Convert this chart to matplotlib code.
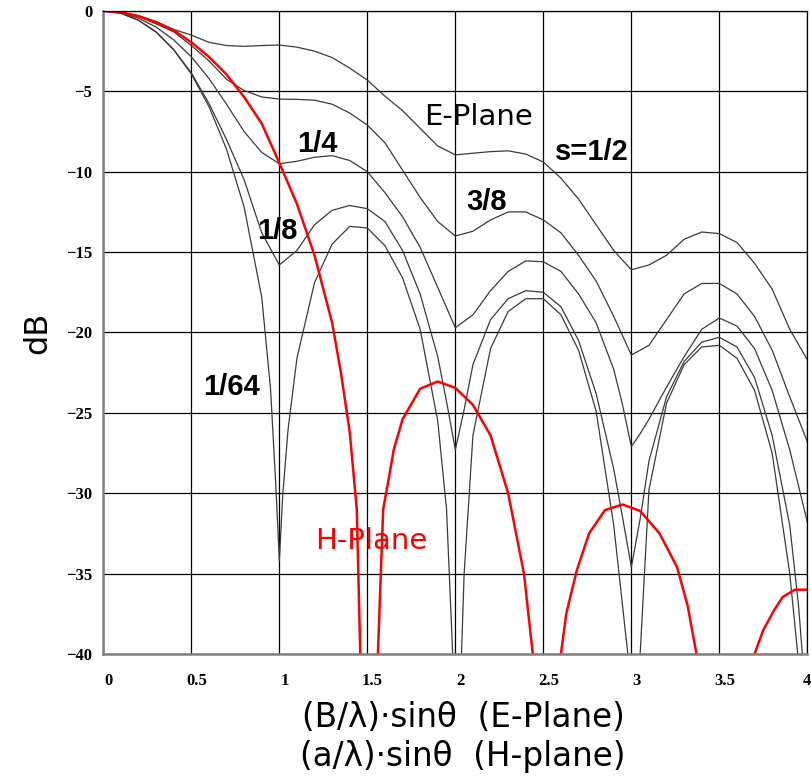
import matplotlib
matplotlib.use("Agg")
import matplotlib.pyplot as plt
from matplotlib.transforms import ScaledTranslation

# normalised spatial frequency (B/lambda)sin(theta) or (a/lambda)sin(theta)
u_half = [0, 0.1, 0.2, 0.3, 0.4, 0.5, 0.6, 0.7, 0.8, 0.9, 1.0, 1.1, 1.2, 1.3, 1.4,
          1.5, 1.6, 1.7, 1.8, 1.9, 2.0, 2.1, 2.2, 2.3, 2.4, 2.5, 2.6, 2.7, 2.8, 2.9,
          3.0, 3.1, 3.2, 3.3, 3.4, 3.5, 3.6, 3.7, 3.8, 3.9, 4.0]
db_half = [0, -0.08, -0.3, -0.65, -1.15, -1.5, -1.95, -2.15, -2.2, -2.15, -2.12,
           -2.25, -2.5, -2.9, -3.55, -4.3, -5.3, -6.2, -7.3, -8.4, -8.95, -8.85,
           -8.75, -8.7, -8.9, -9.4, -10.4, -11.7, -13.3, -14.9, -16.1, -15.8, -15.2,
           -14.2, -13.75, -13.85, -14.4, -15.7, -17.3, -19.8, -21.7]

u_3_8 = u_half
db_3_8 = [0, -0.1, -0.35, -0.8, -1.3, -2.15, -3.1, -4.25, -4.95, -5.35, -5.48,
          -5.5, -5.55, -5.8, -6.35, -7.1, -8.2, -9.9, -11.6, -13.1, -14.0, -13.7,
          -13.0, -12.5, -12.5, -13.0, -13.8, -15.2, -16.8, -19.0, -21.4, -20.8,
          -19.2, -17.6, -16.95, -16.95, -17.6, -19.0, -21.1, -24.0, -26.8]

u_1_4 = [0, 0.1, 0.2, 0.3, 0.4, 0.5, 0.6, 0.7, 0.8, 0.9, 1.0, 1.1, 1.2, 1.3, 1.4,
         1.5, 1.6, 1.7, 1.8, 1.9, 2.0, 2.1, 2.2, 2.3, 2.4, 2.5, 2.6, 2.7, 2.8, 2.9,
         2.95, 3.0, 3.05, 3.1, 3.2, 3.3, 3.4, 3.5, 3.6, 3.7, 3.8, 3.9, 4.0]
db_1_4 = [0, -0.12, -0.45, -1.0, -1.8, -2.85, -4.2, -5.8, -7.5, -8.8, -9.5, -9.35,
          -9.1, -9.0, -9.3, -10.0, -11.3, -12.8, -14.7, -17.2, -19.7, -18.9, -17.4,
          -16.2, -15.55, -15.6, -16.2, -17.6, -19.4, -22.3, -24.5, -27.1, -26.3,
          -25.4, -23.4, -21.5, -19.8, -19.1, -19.6, -21.0, -23.6, -27.3, -31.8]

u_1_8 = [0, 0.1, 0.2, 0.3, 0.4, 0.5, 0.6, 0.7, 0.8, 0.9, 1.0, 1.1, 1.2, 1.3, 1.4,
         1.5, 1.6, 1.7, 1.8, 1.9, 1.95, 2.0, 2.05, 2.1, 2.2, 2.3, 2.4, 2.5, 2.6,
         2.7, 2.8, 2.9, 2.95, 3.0, 3.05, 3.1, 3.2, 3.3, 3.4, 3.5, 3.6, 3.7, 3.8,
         3.9, 3.95, 4.0]
db_1_8 = [0, -0.14, -0.58, -1.3, -2.4, -3.85, -5.75, -8.0, -10.5, -13.8, -15.8,
          -14.9, -13.3, -12.4, -12.1, -12.3, -13.1, -14.9, -17.6, -21.5, -24.3,
          -27.3, -24.8, -22.0, -19.2, -17.9, -17.4, -17.5, -18.4, -20.5, -23.8,
          -28.5, -31.5, -34.6, -31.6, -28.0, -24.0, -21.8, -20.6, -20.3, -20.9,
          -22.8, -26.4, -32.0, -37.0, -44.0]

u_1_64 = [0, 0.1, 0.2, 0.3, 0.4, 0.5, 0.6, 0.7, 0.8, 0.9, 0.95, 0.98, 1.0, 1.02,
          1.05, 1.1, 1.2, 1.3, 1.4, 1.5, 1.6, 1.7, 1.8, 1.9, 1.95, 1.985, 2.01,
          2.035, 2.05, 2.1, 2.2, 2.3, 2.4, 2.5, 2.6, 2.7, 2.8, 2.9, 2.95, 2.98,
          3.01, 3.05, 3.1, 3.2, 3.3, 3.4, 3.5, 3.6, 3.7, 3.8, 3.9, 3.95, 4.0]
db_1_64 = [0, -0.14, -0.58, -1.32, -2.42, -3.92, -5.94, -8.6, -12.2, -17.8, -23.5,
           -29.5, -34.2, -30.0, -26.0, -21.6, -16.9, -14.5, -13.4, -13.5, -14.6,
           -16.6, -19.8, -25.5, -31.0, -40.0, -48.0, -40.0, -35.0, -26.4, -21.0,
           -18.7, -17.9, -17.9, -18.9, -21.1, -24.9, -32.0, -37.0, -40.0, -48.0,
           -40.0, -29.8, -24.4, -22.0, -20.9, -20.8, -21.6, -23.6, -27.5, -35.0,
           -40.5, -48.0]

# H-plane (cosine aperture), values below -40 dB fall off the chart
u_h = [0, 0.1, 0.2, 0.3, 0.4, 0.5, 0.6, 0.7, 0.8, 0.9, 1.0, 1.1, 1.2, 1.3, 1.35,
       1.4, 1.44, 1.46, 1.51, 1.56, 1.59, 1.62, 1.65, 1.7, 1.8, 1.9, 2.0, 2.1, 2.2,
       2.3, 2.39, 2.44, 2.52, 2.6, 2.63, 2.69, 2.76, 2.85, 2.95, 3.05, 3.16, 3.26,
       3.32, 3.37, 3.53, 3.7, 3.75, 3.81, 3.86, 3.93, 4.0]
db_h = [0, -0.08, -0.32, -0.72, -1.2, -1.95, -2.85, -3.95, -5.35, -7.0, -9.45,
        -12.0, -15.2, -19.4, -22.5, -26.2, -31.0, -40.0, -55.0, -40.0, -31.0,
        -29.2, -27.3, -25.4, -23.5, -23.05, -23.45, -24.5, -26.4, -30.0, -35.0,
        -40.0, -55.0, -40.0, -37.5, -34.8, -32.5, -31.05, -30.7, -31.1, -32.5,
        -34.6, -37.0, -40.0, -55.0, -40.0, -38.5, -37.3, -36.45, -36.0, -36.0]

x_ticks = [0, 0.5, 1, 1.5, 2, 2.5, 3, 3.5, 4]
x_tick_labels = ["0", "0.5", "1", "1.5", "2", "2.5", "3", "3.5", "4"]
y_ticks = [0, -5, -10, -15, -20, -25, -30, -35, -40]

fig = plt.figure(figsize=(8.11, 7.78), dpi=100)
ax = fig.add_axes([0.1274, 0.1594, 0.8681, 0.8265])

line_kw = dict(color="#3a3a3a", lw=0.9)
ax.plot(u_half, db_half, **line_kw)
ax.plot(u_3_8, db_3_8, **line_kw)
ax.plot(u_1_4, db_1_4, **line_kw)
ax.plot(u_1_8, db_1_8, **line_kw)
ax.plot(u_1_64, db_1_64, **line_kw)
ax.plot(u_h, db_h, color="red", lw=1.8)

ax.set_xlim(0, 4)
ax.set_ylim(-40, 0)
ax.set_xticks(x_ticks)
ax.set_xticklabels(x_tick_labels)
ax.set_yticks(y_ticks)
ax.grid(True, color="black", lw=0.9)
ax.set_axisbelow(True)
ax.tick_params(axis="y", length=0, pad=8)
ax.tick_params(axis="x", length=0, pad=14)
for lab in ax.get_xticklabels() + ax.get_yticklabels():
    lab.set_fontfamily("Liberation Serif")
    lab.set_fontweight("bold")
    lab.set_fontsize(12)
# x labels sit a little to the right of their grid lines (last one stays put)
nudge = ScaledTranslation(5 / 100, 0, fig.dpi_scale_trans)
for lab in ax.get_xticklabels()[:-1]:
    lab.set_transform(lab.get_transform() + nudge)
for side in ["left", "bottom"]:
    ax.spines[side].set_color("#808080")
    ax.spines[side].set_linewidth(1.8)
for side in ["top", "right"]:
    ax.spines[side].set_color("black")
    ax.spines[side].set_linewidth(0.9)

num_kw = dict(family="Liberation Sans", fontweight="bold", fontsize=21,
              ha="center", va="center")
ax.text(1.214, -8.3, "1/4", **num_kw)
ax.text(2.778, -8.8, "s=1/2", **num_kw)
ax.text(2.178, -11.9, "3/8", **num_kw)
ax.text(0.991, -13.7, "1/8", **num_kw)
ax.text(0.727, -23.4, "1/64", **num_kw)
ax.text(2.132, -6.6, "E-Plane", fontsize=21, ha="center", va="center")
ax.text(1.523, -33.0, "H-Plane", fontsize=21, color="red", ha="center", va="center")

fig.text(0.047, 0.572, "dB", fontsize=23, rotation=90, ha="center", va="center")
fig.text(0.571, 0.078, "(B/λ)·sinθ  (E-Plane)", fontsize=23.5, ha="center", va="center")
fig.text(0.571, 0.027, "(a/λ)·sinθ  (H-plane)", fontsize=23.5, ha="center", va="center")

fig.savefig("out.png", dpi=100)
